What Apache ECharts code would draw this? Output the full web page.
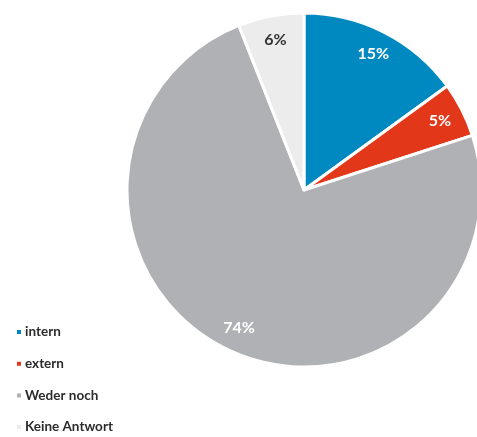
<!DOCTYPE html>
<html>
<head>
<meta charset="utf-8">
<script src="https://cdn.jsdelivr.net/npm/echarts@6/dist/echarts.min.js"></script>
<style>
  html, body { margin: 0; padding: 0; background: #fff; }
  #chart { width: 477px; height: 437px; }
</style>
</head>
<body>
<div id="chart"></div>
<script>
// Antwortverteilung
const categories = ['intern', 'extern', 'Weder noch', 'Keine Antwort'];
const values = [15, 5, 74, 6];
const colors = ['#0089c1', '#e3371a', '#b0b1b4', '#ececed'];
const labelColors = ['#ffffff', '#ffffff', '#ffffff', '#333333'];

const pieData = categories.map((name, i) => ({
  name: name,
  value: values[i],
  itemStyle: { color: colors[i] }
}));

// Label ring: transparent slices whose midpoint radius places the labels near the rim
const labelData = categories.map((name, i) => ({
  name: name,
  value: values[i],
  itemStyle: { color: 'transparent' },
  label: { color: labelColors[i] }
}));

const chart = echarts.init(document.getElementById('chart'), null, { renderer: 'canvas' });
chart.setOption({
  animation: false,
  legend: {
    orient: 'vertical',
    left: 15,
    top: 325,
    padding: 0,
    icon: 'rect',
    itemWidth: 6,
    itemHeight: 6,
    itemGap: 17.7,
    data: categories,
    textStyle: {
      fontFamily: 'Lato',
      fontWeight: 'bold',
      fontSize: 13.5,
      color: '#2b2b2b',
      padding: [0, 0, 0, -2]
    }
  },
  series: [
    {
      type: 'pie',
      center: [304, 190],
      radius: [0, 177],
      startAngle: 90,
      clockwise: true,
      silent: true,
      label: { show: false },
      labelLine: { show: false },
      itemStyle: { borderColor: '#ffffff', borderWidth: 3 },
      data: pieData
    },
    {
      type: 'pie',
      center: [304, 190],
      radius: [122, 177],
      startAngle: 90,
      clockwise: true,
      silent: true,
      legendHoverLink: false,
      label: {
        show: true,
        position: 'inside',
        formatter: '{c}%',
        fontFamily: 'Lato',
        fontWeight: 'bold',
        fontSize: 16
      },
      labelLine: { show: false },
      data: labelData
    }
  ]
});
</script>
</body>
</html>
